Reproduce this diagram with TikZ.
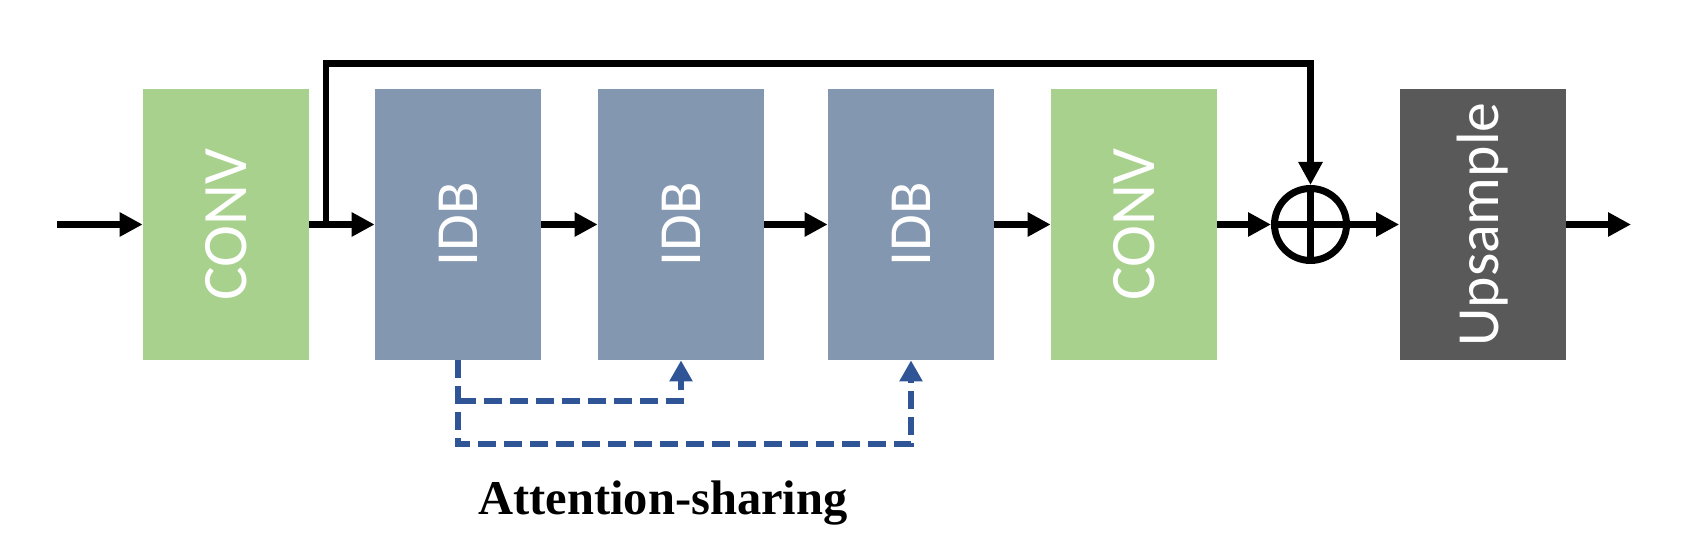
\documentclass[tikz,border=0pt]{standalone}
\usepackage{fontspec}
\setmainfont{Liberation Serif}
\setsansfont{Carlito}
\usetikzlibrary{arrows.meta}
\definecolor{convgreen}{HTML}{A9D18E}
\definecolor{idbblue}{HTML}{8497B0}
\definecolor{upgray}{HTML}{595959}
\definecolor{shareblue}{HTML}{2F5597}
\tikzset{
  block/.style={minimum width=3.32cm, minimum height=5.42cm, inner sep=0pt,
    text=white, font=\sffamily\fontsize{34}{34}\selectfont},
  flow/.style={line width=0.13cm, -{Triangle[length=0.46cm,width=0.46cm]}},
  share/.style={line width=0.13cm, shareblue, dash pattern=on 0.36cm off 0.16cm,
    -{Triangle[length=0.42cm,width=0.44cm]}}
}
\begin{document}
\begin{tikzpicture}
            \useasboundingbox (0,0) rectangle (33.88,10.8);
            
            % Blocks
            \node [block, fill=convgreen] (conv1) at (4.52,6.31) {\rotatebox{90}{\fontsize{36}{36}\selectfont CONV}};
            \node [block, fill=idbblue] (idb1) at (9.16,6.31) {\rotatebox{90}{IDB}};
            \node [block, fill=idbblue] (idb2) at (13.62,6.31) {\rotatebox{90}{IDB}};
            \node [block, fill=idbblue] (idb3) at (18.22,6.31) {\rotatebox{90}{IDB}};
            \node [block, fill=convgreen] (conv2) at (22.68,6.31) {\rotatebox{90}{\fontsize{36}{36}\selectfont CONV}};
            \node [block, fill=upgray] (up) at (29.65,6.31) {\rotatebox{90}{Upsample}};
            
            % Sum node
            \node [circle, draw, line width=0.14cm, minimum size=1.44cm, inner sep=0pt] (sum) at (26.21,6.31) {};
            \draw [line width=0.13cm] (sum.north) -- (sum.south);%
            \draw [line width=0.13cm] (sum.west) -- (sum.east);%
            
            % Helper points
            \coordinate (in) at (1.14,6.31);
            \coordinate (out) at (32.62,6.31);
            \coordinate (split) at (6.52,6.31);
            \coordinate (skiptop) at (6.52,9.53);
            \coordinate (shareA) at (9.16,2.78);
            \coordinate (shareB) at (9.16,1.92);
            
            % Main flow
            \draw [flow] (in) -- (conv1);%
            \draw [flow] (conv1) -- (idb1);%
            \draw [flow] (idb1) -- (idb2);%
            \draw [flow] (idb2) -- (idb3);%
            \draw [flow] (idb3) -- (conv2);%
            \draw [flow] (conv2) -- (sum);%
            \draw [flow] (sum) -- (up);%
            \draw [flow] (up) -- (out);%
            
            % Global skip
            \draw [flow] (split) -- (skiptop) -| (sum.north);%
            
            % Attention sharing
            \draw [share] (idb1.south) -- (shareB) -| (idb3.south);%
            \draw [share] (shareA) -| (idb2.south);%
            \node [anchor=base, font=\bfseries\fontsize{27.6}{30}\selectfont] (label) at (13.26,0.5) {Attention-sharing};
\end{tikzpicture}
\end{document}
